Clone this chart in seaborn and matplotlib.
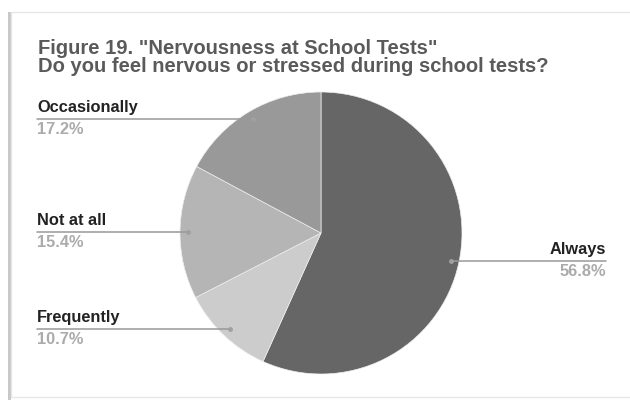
import matplotlib
matplotlib.use("Agg")
import matplotlib.pyplot as plt
import matplotlib.transforms as mtransforms
from matplotlib.patches import Rectangle
import seaborn as sns
import numpy as np

# data
categories = ["Always", "Frequently", "Not at all", "Occasionally"]
shares = [56.8, 10.7, 15.4, 17.2]
slice_colors = ["#666666", "#cccccc", "#b5b5b5", "#999999"]
title_lines = ['Figure 19. "Nervousness at School Tests"',
               "Do you feel nervous or stressed during school tests?"]

sns.set_theme(style="white")
plt.rcParams["font.family"] = ["Liberation Sans", "DejaVu Sans"]

fig = plt.figure(figsize=(6.3, 4.0), dpi=100)
fig.patch.set_facecolor("white")

# card frame with a soft shadow on the left
fig.patches.append(Rectangle((8 / 630, 0), 3 / 630, 1 - 12 / 400, transform=fig.transFigure,
                             facecolor="#c8c8c8", edgecolor="none", zorder=-2))
fig.patches.append(Rectangle((11 / 630, 3 / 400), 1, 1 - 15 / 400, transform=fig.transFigure,
                             facecolor="white", edgecolor="#e6e6e6", linewidth=1, zorder=-1))

for i, line in enumerate(title_lines):
    fig.text(38 / 630, 1 - (54 + i * 18) / 400, line, fontsize=14.5, fontweight="bold",
             color="#5a5a5a", ha="left", va="baseline")

# pie: centre ~ (321, 233) px, radius ~141 px
ax = fig.add_axes([(321 - 141) / 630, 1 - (233 + 141) / 400, 282 / 630, 282 / 400])
wedges, _ = ax.pie(shares, colors=slice_colors, startangle=90, counterclock=False,
                   radius=1.0, wedgeprops=dict(linewidth=0.5, edgecolor="#eeeeee"))
ax.set_xlim(-1, 1)
ax.set_ylim(-1, 1)
ax.set_aspect("equal")
ax.axis("off")

blend = mtransforms.blended_transform_factory(fig.transFigure, ax.transData)
to_fig = fig.transFigure.inverted()
for w, name, val in zip(wedges, categories, shares):
    mid = np.deg2rad((w.theta1 + w.theta2) / 2)
    px, py = 0.94 * np.cos(mid), 0.94 * np.sin(mid)
    right = px > 0
    tx = 606 / 630 if right else 37 / 630
    ha = "right" if right else "left"
    ax.plot([px], [py], marker="o", ms=2.5, color="#a0a0a0", zorder=5)
    dot_x = to_fig.transform(ax.transData.transform((px, py)))[0]
    ax.plot([tx, dot_x], [py, py], color="#999999", linewidth=1.1, transform=blend, clip_on=False)
    ax.annotate(name, xy=(tx, py), xycoords=blend, xytext=(0, 3), textcoords="offset points",
                ha=ha, va="bottom", fontsize=11.8, fontweight="bold", color="#222222",
                annotation_clip=False)
    ax.annotate(f"{val}%", xy=(tx, py), xycoords=blend, xytext=(0, -2), textcoords="offset points",
                ha=ha, va="top", fontsize=11.8, fontweight="bold", color="#ababab",
                annotation_clip=False)

fig.savefig("out.png", dpi=100)
